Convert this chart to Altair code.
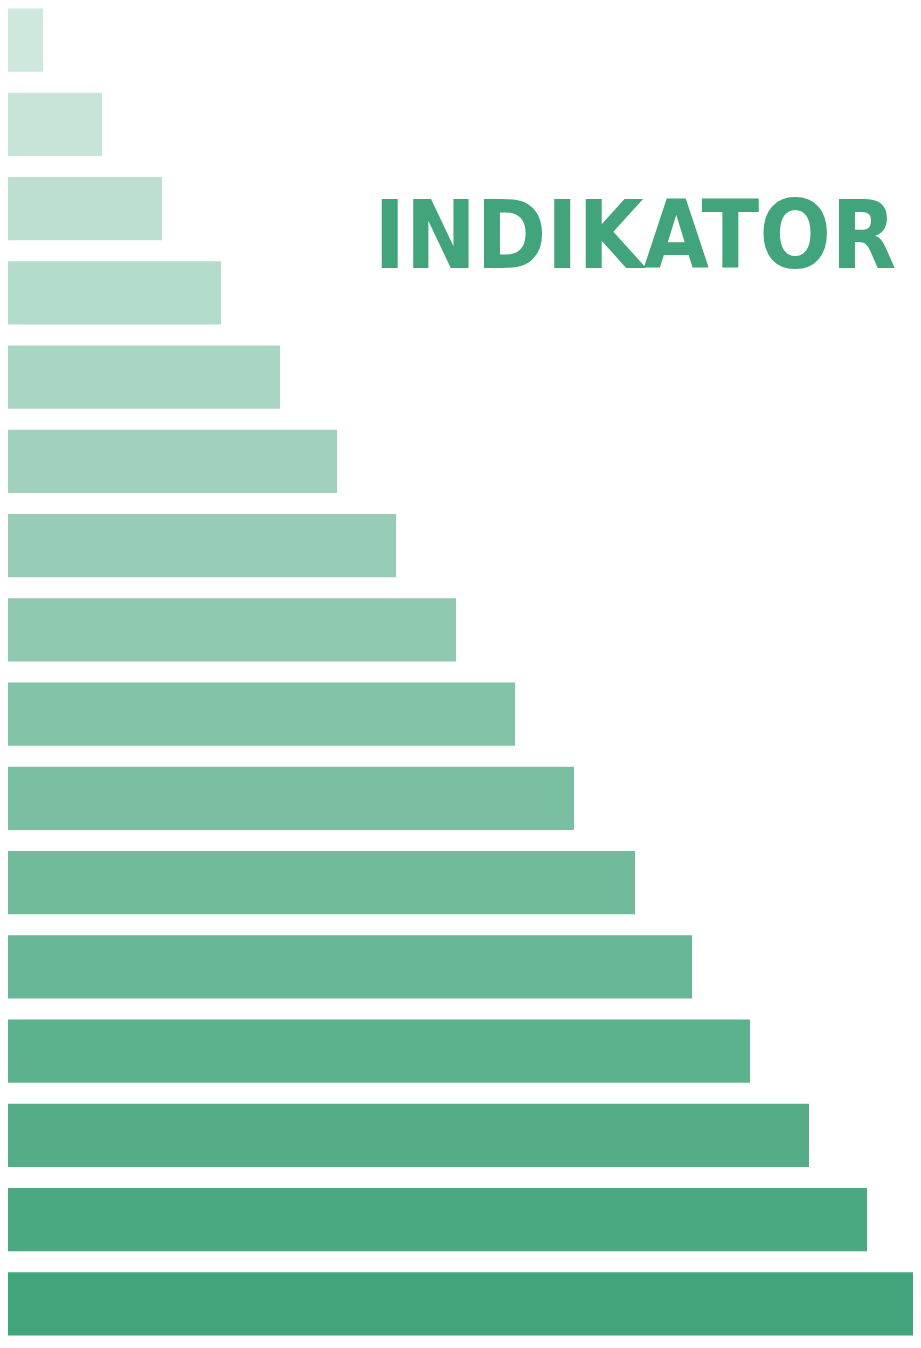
import altair as alt
import pandas as pd

# Data
rows = [str(i) for i in range(1, 17)]
values = [43, 102, 162, 221, 280, 337, 396, 456, 515, 574, 635, 692, 750, 809, 867, 926]
shades = [0.25, 0.30, 0.35, 0.40, 0.45, 0.50, 0.55, 0.60, 0.65, 0.70, 0.75, 0.80, 0.85, 0.90, 0.95, 1.00]
title_text = "INDIKATOR EKONOMI"

GREEN = "#41a47a"

bars_df = pd.DataFrame({"row": rows, "value": values, "shade": shades, "start": [0] * len(rows)})

bars = alt.Chart(bars_df).mark_bar(clip=True, color=GREEN).encode(
    y=alt.Y("row:N", sort=rows, axis=None,
            scale=alt.Scale(paddingInner=0.247, paddingOuter=0.005)),
    x=alt.X("start:Q", axis=None, scale=alt.Scale(domain=[8, 913], zero=False, nice=False)),
    x2="value:Q",
    opacity=alt.Opacity("shade:Q", scale=None, legend=None),
)

title = alt.Chart(pd.DataFrame({"t": [title_text]})).mark_text(
    clip=True,
    align="left",
    baseline="alphabetic",
    font="DejaVu Sans Condensed",
    fontWeight="bold",
    fontSize=94,
    color=GREEN,
).encode(
    text="t:N",
    x=alt.value(366),
    y=alt.value(260),
)

chart = alt.layer(bars, title).properties(
    width=905, height=1328, padding=0
).configure_view(stroke=None)

chart.save("out.html", embed_options={"renderer": "svg", "actions": False})
